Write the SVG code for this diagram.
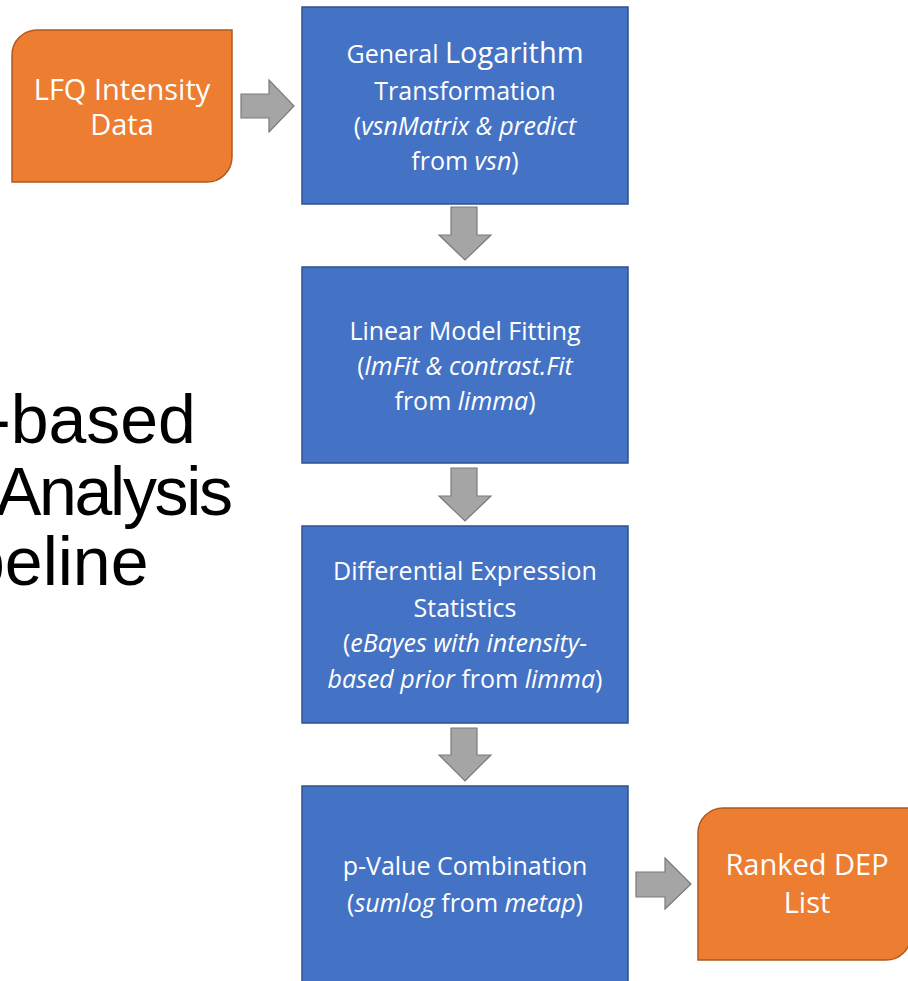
<svg xmlns="http://www.w3.org/2000/svg" width="908" height="981" viewBox="0 0 908 981">
  <style>
    .step { fill: #4472C4; stroke: #2F528F; stroke-width: 1.5; }
    .term { fill: #ED7D31; stroke: #AE5A21; stroke-width: 1.5; }
    .arrow { fill: #A5A5A5; stroke: #7A7A7A; stroke-width: 1.2; stroke-linejoin: miter; }
    .lbl { font-family: "Open Sans", "Noto Sans", sans-serif; fill: #FFFFFF; text-anchor: middle; font-size: 25px; }
    .big { font-size: 29px; }
    .it { font-style: italic; }
    .title { font-family: "Liberation Sans", Arial, sans-serif; font-size: 68px; fill: #000000; }
  </style>

  <!-- Heading, partly running off the left edge -->
  <g id="heading">
    <text class="title" x="-12" y="443">-based</text>
    <text class="title" x="-4" y="515" letter-spacing="-2.3">Analysis</text>
    <text class="title" x="-33" y="585">peline</text>
  </g>

  <!-- Block arrows between the steps -->
  <g id="connectors">
    <polygon class="arrow" points="241,94 269,94 269,80 294,106 269,132 269,118 241,118"/>
    <polygon class="arrow" points="451,207 477,207 477,235 491,235 465,260 439,235 451,235"/>
    <polygon class="arrow" points="451,468 477,468 477,496 491,496 465,521 439,496 451,496"/>
    <polygon class="arrow" points="451,728 477,728 477,755 491,755 465,781 439,755 451,755"/>
    <polygon class="arrow" points="636,872 665,872 665,858 691,884 665,909 665,897 636,897"/>
  </g>

  <!-- Input data -->
  <g id="lfq-data">
    <path class="term" d="M37,30 H232 V157 A25,25 0 0 1 207,182 H12 V55 A25,25 0 0 1 37,30 Z"/>
    <text class="lbl big" x="122" y="100">LFQ Intensity</text>
    <text class="lbl big" x="122" y="135">Data</text>
  </g>

  <!-- Step 1 -->
  <g id="glog">
    <rect class="step" x="302" y="7" width="326" height="197"/>
    <text class="lbl" x="465" y="63">General <tspan class="big">Logarithm</tspan></text>
    <text class="lbl" x="465" y="100">Transformation</text>
    <text class="lbl" x="465" y="135">(<tspan class="it">vsnMatrix &amp; predict</tspan></text>
    <text class="lbl" x="465" y="170">from <tspan class="it">vsn</tspan>)</text>
  </g>

  <!-- Step 2 -->
  <g id="lmfit">
    <rect class="step" x="302" y="267" width="326" height="196"/>
    <text class="lbl" x="465" y="340">Linear Model Fitting</text>
    <text class="lbl" x="465" y="375">(<tspan class="it">lmFit &amp; contrast.Fit</tspan></text>
    <text class="lbl" x="465" y="410">from <tspan class="it">limma</tspan>)</text>
  </g>

  <!-- Step 3 -->
  <g id="ebayes">
    <rect class="step" x="302" y="526" width="326" height="197"/>
    <text class="lbl" x="465" y="580">Differential Expression</text>
    <text class="lbl" x="465" y="617">Statistics</text>
    <text class="lbl" x="465" y="652">(<tspan class="it">eBayes with intensity-</tspan></text>
    <text class="lbl" x="465" y="688"><tspan class="it">based prior</tspan> from <tspan class="it">limma</tspan>)</text>
  </g>

  <!-- Step 4 -->
  <g id="sumlog">
    <rect class="step" x="302" y="786" width="326" height="200"/>
    <text class="lbl" x="465" y="875">p-Value Combination</text>
    <text class="lbl" x="465" y="912">(<tspan class="it">sumlog</tspan> from <tspan class="it">metap</tspan>)</text>
  </g>

  <!-- Output -->
  <g id="ranked-list">
    <path class="term" d="M723,808 H911 V935 A25,25 0 0 1 886,960 H698 V833 A25,25 0 0 1 723,808 Z"/>
    <text class="lbl big" x="807" y="875">Ranked DEP</text>
    <text class="lbl big" x="807" y="913">List</text>
  </g>
</svg>
